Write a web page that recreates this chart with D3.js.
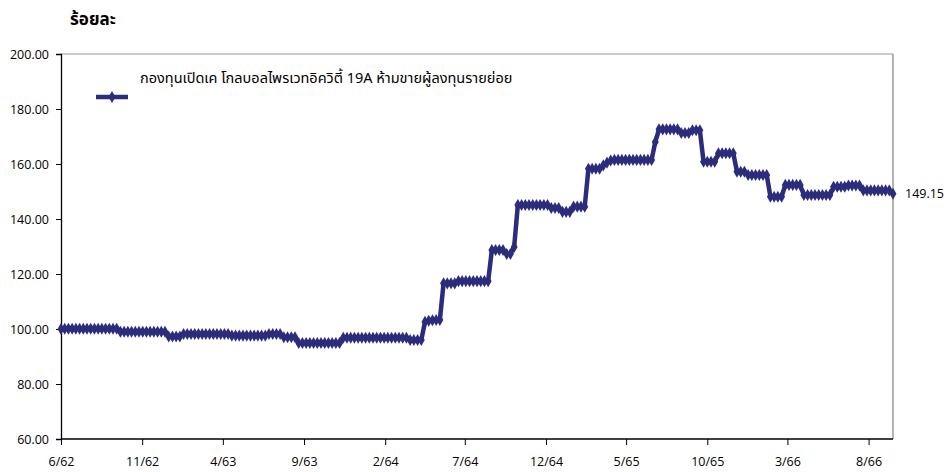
<!DOCTYPE html>
<html>
<head>
<meta charset="utf-8">
<script src="https://cdn.jsdelivr.net/npm/d3@7/dist/d3.min.js"></script>
<style>
  html, body { margin: 0; padding: 0; background: #fff; }
  svg { display: block; }
  .thai { font-family: Tahoma, "Noto Sans Thai", "Noto Sans", "DejaVu Sans", sans-serif; }
  .num { font-family: "Liberation Sans Narrow", "Open Sans", "Liberation Sans", sans-serif; }
</style>
</head>
<body>
<svg id="chart" width="946" height="472"></svg>
<script>
// ---- data ----
const yAxisTitle = "ร้อยละ";
const seriesName = "กองทุนเปิดเค โกลบอลไพรเวทอิควิตี้ 19A ห้ามขายผู้ลงทุนรายย่อย";
const startDate = "2019-06-01";          // first weekly observation (6/62)
const yTicks = [60, 80, 100, 120, 140, 160, 180, 200];
const xTickLabels = ["6/62","11/62","4/63","9/63","2/64","7/64","12/64","5/65","10/65","3/66","8/66"];
const xTickDates = ["2019-06-01","2019-11-01","2020-04-01","2020-09-01","2021-02-01","2021-07-01",
                    "2021-12-01","2022-05-01","2022-10-01","2023-03-01","2023-08-01"];
// weekly NAV index values
const values = [
  100.00,100.10,100.10,100.10,100.10,100.10,100.10,100.10,100.10,100.10,100.10,100.10,100.10,100.10,100.10,100.10,
  99.00,99.00,99.00,99.00,99.00,99.00,99.00,99.00,99.00,99.00,99.00,99.00,99.00,
  97.30,97.30,97.30,97.30,
  98.20,98.20,98.20,98.20,98.20,98.20,98.20,98.20,98.20,98.20,98.20,98.20,98.20,
  97.60,97.60,97.60,97.60,97.60,97.60,97.60,97.60,97.60,97.60,
  98.20,98.20,98.20,98.20,
  97.00,97.00,97.00,97.00,
  94.90,94.90,94.90,94.90,94.90,94.90,94.90,94.90,94.90,94.90,94.90,94.90,
  96.80,96.80,96.80,96.80,96.80,96.80,96.80,96.80,96.80,96.80,96.80,96.80,96.80,96.80,96.80,96.80,96.80,96.80,
  96.00,96.00,96.00,96.00,
  102.60,103.00,103.20,103.30,103.30,
  116.60,116.60,116.60,116.60,
  117.40,117.40,117.40,117.40,117.40,117.40,117.40,117.40,117.40,
  128.70,128.70,128.70,128.70,
  127.30,127.30,
  129.80,
  145.10,145.10,145.10,145.10,145.10,145.10,145.10,145.10,145.10,
  144.00,144.00,144.00,
  142.60,142.60,142.60,
  144.50,144.50,144.50,144.50,
  158.30,158.30,158.30,158.30,
  159.50,160.50,161.30,
  161.50,161.50,161.50,161.50,161.50,161.50,161.50,161.50,161.50,161.50,161.50,
  168.00,
  172.60,172.60,172.60,172.60,172.60,172.60,
  171.30,171.30,171.30,
  172.30,172.30,172.30,
  160.80,160.80,160.80,160.80,
  163.90,163.90,163.90,163.90,163.90,
  157.20,157.20,157.20,
  156.00,156.00,156.00,156.00,156.00,156.00,
  148.10,148.10,148.10,148.10,
  152.40,152.40,152.40,152.40,152.40,
  148.70,148.70,148.70,148.70,148.70,148.70,148.70,148.70,
  151.70,151.70,151.70,151.70,
  152.20,152.20,152.20,152.20,
  150.40,150.40,150.40,150.40,150.40,150.40,150.40,150.40,149.15
];
const lastLabel = "149.15";

// ---- chart ----
const color = "#2b2c7c";
const svg = d3.select("#chart");
const margin = { left: 61, right: 53, top: 54, bottom: 33 };
const W = 946, H = 472;
const parse = d3.timeParse("%Y-%m-%d");
const t0 = parse(startDate);
const data = values.map((v, i) => ({ date: d3.timeDay.offset(t0, i * 7), value: v }));

const x = d3.scaleTime()
  .domain([data[0].date, data[data.length - 1].date])
  .range([margin.left, W - margin.right]);
const y = d3.scaleLinear().domain([60, 200]).range([H - margin.bottom, margin.top]);

// frame (top & right gray)
svg.append("line").attr("x1", x.range()[0]).attr("x2", x.range()[1])
  .attr("y1", y(200)).attr("y2", y(200)).attr("stroke", "#9a9a9a").attr("stroke-width", 1);
svg.append("line").attr("x1", x.range()[1]).attr("x2", x.range()[1])
  .attr("y1", y(200)).attr("y2", y(60)).attr("stroke", "#9a9a9a").attr("stroke-width", 1.5);

// y axis
const yAxis = d3.axisLeft(y).tickValues(yTicks).tickSize(5).tickPadding(7)
  .tickFormat(d3.format(".2f"));
const gy = svg.append("g").attr("transform", `translate(${margin.left},0)`).call(yAxis);
gy.select(".domain").attr("stroke", "#000").attr("stroke-width", 1.3);
gy.selectAll(".tick line").attr("stroke", "#000");
gy.selectAll("text").attr("class", "num").attr("font-size", 12.5).attr("fill", "#000");

// x axis
const xAxis = d3.axisBottom(x).tickValues(xTickDates.map(parse)).tickSize(6).tickPadding(12)
  .tickFormat((d, i) => xTickLabels[i]);
const gx = svg.append("g").attr("transform", `translate(0,${y(60)})`).call(xAxis);
gx.select(".domain").attr("stroke", "#000").attr("stroke-width", 1.3)
  .attr("d", `M${x.range()[0]},0H${x.range()[1]}`);
gx.selectAll(".tick line").attr("stroke", "#000");
gx.selectAll("text").attr("class", "num").attr("font-size", 12.5).attr("fill", "#000");

// series line
const line = d3.line().x(d => x(d.date)).y(d => y(d.value));
svg.append("path").datum(data).attr("d", line)
  .attr("fill", "none").attr("stroke", color).attr("stroke-width", 4.5).attr("stroke-linejoin", "round");
// diamond markers
const diamond = d3.symbol().type(d3.symbolDiamond).size(42);
svg.append("g").selectAll("path").data(data).join("path")
  .attr("transform", d => `translate(${x(d.date)},${y(d.value)})`)
  .attr("d", diamond).attr("fill", color);

// end label
const last = data[data.length - 1];
svg.append("text").attr("class", "num").attr("x", x(last.date) + 12).attr("y", y(last.value))
  .attr("dy", "0.35em").attr("font-size", 12.5).text(lastLabel);

// title
svg.append("text").attr("class", "thai").attr("x", 70).attr("y", 25)
  .attr("font-size", 17).attr("font-weight", "bold").text(yAxisTitle);

// legend
svg.append("line").attr("x1", 96).attr("x2", 128).attr("y1", 97).attr("y2", 97)
  .attr("stroke", color).attr("stroke-width", 4.5);
svg.append("path").attr("transform", "translate(112,97)").attr("d", diamond).attr("fill", color);
svg.append("text").attr("class", "thai").attr("x", 140).attr("y", 83)
  .attr("font-size", 14.5).text(seriesName);
</script>
</body>
</html>
